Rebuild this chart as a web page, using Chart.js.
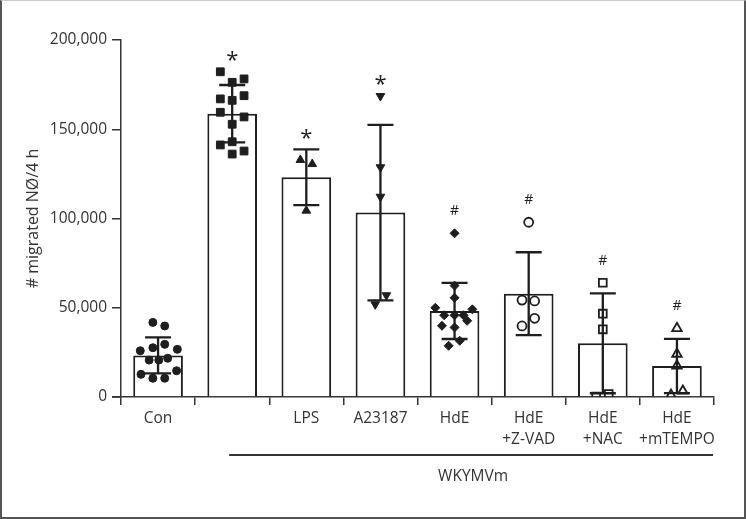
<!DOCTYPE html>
<html>
<head>
<meta charset="utf-8">
<script src="https://cdn.jsdelivr.net/npm/chart.js@4.4.0/dist/chart.umd.min.js"></script>
<style>
  html, body { margin: 0; padding: 0; background: #fff; }
  #wrap { position: relative; width: 746px; height: 519px; }
  #frame { position: absolute; left: 0; top: 0; width: 746px; height: 519px; box-sizing: border-box;
           border: 2px solid #555; border-top: 1px solid #ccc; pointer-events: none; }
  canvas { position: absolute; left: 0; top: 0; }
</style>
</head>
<body>
<div id="wrap"><canvas id="chart" width="746" height="519"></canvas><div id="frame"></div></div>
<script>
const groups = [['Con'], '', ['LPS'], ['A23187'], ['HdE'], ['HdE', '+Z-VAD'], ['HdE', '+NAC'], ['HdE', '+mTEMPO']];
const means = [23300, 158700, 123100, 103300, 48200, 57900, 30100, 17400];
const sds = [10100, 16100, 15600, 49200, 15700, 23200, 28000, 15200];
const marks = ['', '*', '*', '*', '#', '#', '#', '#'];
const yTicks = [0, 50000, 100000, 150000, 200000];
const bracketLabel = 'WKYMVm';

// single values per group, with their sideways spread (in category widths)
const conPts = [41800, 39800, 25900, 27600, 29500, 26700, 20700, 20700, 21700, 12700, 10500, 10500, 14700];
const conSpread = [-0.07, 0.09, -0.24, -0.07, 0.09, 0.26, -0.12, 0.01, 0.13, -0.23, -0.07, 0.09, 0.25];
const wkyPts = [182200, 178200, 176300, 167000, 168800, 166200, 159500, 156900, 152800, 141200, 143000, 136100, 137800];
const wkySpread = [-0.16, 0.16, 0, -0.16, 0.16, 0, -0.16, 0.16, 0, -0.16, 0, 0, 0.16];
const lpsPts = [132800, 130500, 104400];
const lpsSpread = [-0.08, 0.08, 0];
const a23Pts = [168600, 128700, 112200, 51900, 57000];
const a23Spread = [0, 0, 0, -0.07, 0.08];
const hdePts = [91700, 62400, 55600, 50000, 49100, 45800, 45800, 45800, 42700, 39900, 39000, 31500, 28700];
const hdeSpread = [0, 0, 0, -0.26, 0.24, -0.14, 0, 0.12, 0.17, -0.17, 0, 0.07, -0.08];
const zvadPts = [97900, 54300, 53800, 44100, 39800];
const zvadSpread = [0, -0.09, 0.08, 0.08, -0.09];
const nacPts = [64000, 46700, 37900, 200, 1700];
const nacSpread = [0, 0, 0, -0.09, 0.08];
const tempoPts = [38500, 24100, 17500, 1100, 3400];
const tempoSpread = [0, 0, 0, -0.08, 0.08];

const ink = '#1e1e1e';
const textInk = '#333';
const fontFam = "'Open Sans', 'DejaVu Sans', sans-serif";

const pointSets = [
  { pts: conPts, spread: conSpread, style: 'circle', r: 4, rot: 0, filled: true },
  { pts: wkyPts, spread: wkySpread, style: 'rect', r: 5.5, rot: 0, filled: true },
  { pts: lpsPts, spread: lpsSpread, style: 'triangle', r: 5, rot: 0, filled: true },
  { pts: a23Pts, spread: a23Spread, style: 'triangle', r: 5, rot: 180, filled: true },
  { pts: hdePts, spread: hdeSpread, style: 'rectRot', r: 4.5, rot: 0, filled: true },
  { pts: zvadPts, spread: zvadSpread, style: 'circle', r: 4.5, rot: 0, filled: false },
  { pts: nacPts, spread: nacSpread, style: 'rect', r: 5.5, rot: 0, filled: false },
  { pts: tempoPts, spread: tempoSpread, style: 'triangle', r: 5.5, rot: 0, filled: false }
];

const scatterSets = pointSets.map((s, i) => ({
  type: 'scatter',
  xAxisID: 'xs',
  order: 1,
  data: s.pts.map((v, k) => ({ x: i + s.spread[k], y: v })),
  pointStyle: s.style,
  rotation: s.rot,
  pointRadius: s.r,
  pointBackgroundColor: s.filled ? ink : 'rgba(0,0,0,0)',
  pointBorderColor: ink,
  pointBorderWidth: s.filled ? 1 : 1.8
}));

const extras = {
  id: 'extras',
  afterDatasetDraw(chart, args) {
    if (args.index !== 0) return;
    const { ctx } = chart;
    const x = chart.scales.x, y = chart.scales.y;
    ctx.save();
    ctx.strokeStyle = ink;
    ctx.lineWidth = 2.3;
    means.forEach((m, i) => {
      const px = x.getPixelForValue(i);
      const top = y.getPixelForValue(m + sds[i]);
      const bot = y.getPixelForValue(Math.max(m - sds[i], 0));
      ctx.beginPath();
      ctx.moveTo(px, top); ctx.lineTo(px, bot);
      ctx.moveTo(px - 13, top); ctx.lineTo(px + 13, top);
      ctx.moveTo(px - 13, bot); ctx.lineTo(px + 13, bot);
      ctx.stroke();
    });
    ctx.restore();
  },
  afterDraw(chart) {
    const { ctx, chartArea } = chart;
    const x = chart.scales.x, y = chart.scales.y;
    ctx.save();
    // significance marks above each group
    ctx.fillStyle = ink;
    ctx.textAlign = 'center';
    ctx.textBaseline = 'middle';
    marks.forEach((mk, i) => {
      if (!mk) return;
      const top = Math.max(Math.max(...pointSets[i].pts), means[i] + sds[i]);
      const py = y.getPixelForValue(top);
      if (mk === '*') {
        ctx.font = '22px ' + fontFam;
        ctx.fillText(mk, x.getPixelForValue(i), py - 11);
      } else {
        ctx.font = '14px ' + fontFam;
        ctx.fillText(mk, x.getPixelForValue(i), py - 22);
      }
    });
    // x axis runs a little past the y axis
    ctx.strokeStyle = textInk;
    ctx.lineWidth = 1.5;
    ctx.beginPath();
    ctx.moveTo(chartArea.left - 9, chartArea.bottom);
    ctx.lineTo(chartArea.left, chartArea.bottom);
    ctx.stroke();
    // treatment bracket
    const x0 = x.getPixelForValue(1) - 3;
    const x1 = chartArea.right - 1;
    ctx.lineWidth = 2;
    ctx.beginPath();
    ctx.moveTo(x0, chartArea.bottom + 58);
    ctx.lineTo(x1, chartArea.bottom + 58);
    ctx.stroke();
    ctx.fillStyle = textInk;
    ctx.font = '15.5px ' + fontFam;
    ctx.fillText(bracketLabel, (x0 + x1) / 2 + 2, chartArea.bottom + 80);
    ctx.restore();
  }
};

new Chart(document.getElementById('chart'), {
  type: 'bar',
  data: {
    labels: groups,
    datasets: [{
      type: 'bar',
      order: 2,
      grouped: false,
      data: means,
      backgroundColor: '#fff',
      borderColor: ink,
      borderWidth: 2,
      categoryPercentage: 1,
      barPercentage: 0.67
    }, ...scatterSets]
  },
  options: {
    responsive: false,
    animation: false,
    layout: { padding: { left: 24, top: 40, right: 32, bottom: 62 } },
    plugins: { legend: { display: false }, tooltip: { enabled: false } },
    scales: {
      x: {
        type: 'category',
        offset: true,
        grid: { display: true, drawOnChartArea: false, drawTicks: true, tickLength: 8, color: textInk, lineWidth: 1.5 },
        border: { display: true, color: textInk, width: 1.5 },
        ticks: { color: textInk, font: { family: fontFam, size: 15.5, lineHeight: 1.35 }, padding: 3, autoSkip: false, maxRotation: 0 },
        afterFit: s => { s.height = 60; }
      },
      xs: { type: 'linear', min: -0.5, max: 7.5, offset: false, display: false },
      y: {
        min: 0,
        max: 200000,
        afterBuildTicks: s => { s.ticks = yTicks.map(v => ({ value: v })); },
        grid: { display: true, drawOnChartArea: false, drawTicks: true, tickLength: 9, color: textInk, lineWidth: 1.5 },
        border: { display: true, color: textInk, width: 1.5 },
        ticks: { color: textInk, font: { family: fontFam, size: 15.5 }, padding: 5,
                 callback: v => v.toLocaleString('en-US') },
        title: { display: true, text: '# migrated NØ/4 h', color: textInk,
                 font: { family: fontFam, size: 16 }, padding: 0 },
        afterFit: s => { s.width = 97; }
      }
    }
  },
  plugins: [extras]
});
</script>
</body>
</html>
